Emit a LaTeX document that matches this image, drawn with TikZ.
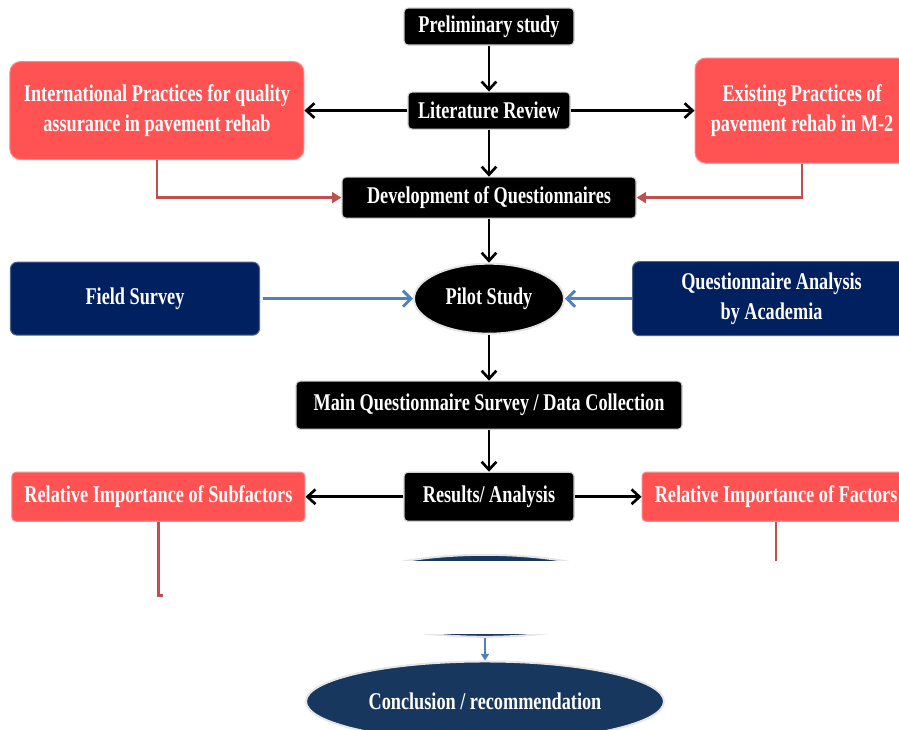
\documentclass[tikz,border=0pt]{standalone}
\usepackage{fontspec}
\setmainfont{Liberation Serif}[FakeStretch=0.76]
\usepackage{tikz}
\usetikzlibrary{shapes.geometric, arrows.meta, positioning}
\definecolor{boxred}{RGB}{255, 82, 82}
\definecolor{boxnavy}{RGB}{0, 32, 96}
\definecolor{ellnavy}{RGB}{23, 55, 94}
\definecolor{linered}{RGB}{192, 80, 77}
\definecolor{lineblue}{RGB}{79, 129, 189}
\tikzset{
  stepbox/.style={
    rectangle, rounded corners=3pt,
    draw=black!18, line width=0.8pt, fill=black,
    text=white, align=center, inner sep=2pt,
    font=\fontsize{18}{22}\selectfont\bfseries
  },
  redbox/.style={
    stepbox, rounded corners=8pt,
    draw=boxred!70!white, fill=boxred
  },
  navybox/.style={
    stepbox, rounded corners=5pt,
    draw=boxnavy!70!white, fill=boxnavy
  },
  blackell/.style={
    stepbox, ellipse, inner sep=0pt,
    draw=black!10, line width=1.5pt
  },
  navyell/.style={
    blackell, fill=ellnavy
  },
  arr/.style={-{Straight Barb[length=6pt, width=11pt]}, line width=2pt, black},
  redarr/.style={-{Triangle[length=7pt, width=8pt]}, line width=2pt, color=linered},
  bluearr/.style={-{Straight Barb[length=6pt, width=12pt]}, line width=2.2pt, color=lineblue},
  bluetip/.style={-{Triangle[length=5pt, width=6pt]}, line width=1.5pt, color=lineblue},
}
\begin{document}
\begin{tikzpicture}[x=0.75pt, y=0.75pt]
  \useasboundingbox (0,0) rectangle (899,-729);

  % Main chain
  \node[stepbox, minimum width=127.5pt, minimum height=27.75pt] (prelim) at (489,-26.5) {Preliminary study};
  \node[stepbox, below=34.5pt of prelim, minimum width=121.5pt, minimum height=27.75pt] (lit) {Literature Review};
  \node[stepbox, below=35.25pt of lit, minimum width=220.5pt, minimum height=30.75pt] (dev) {Development of Questionnaires};
  \node[blackell, below=33pt of dev, minimum width=112.5pt, minimum height=52.5pt] (pilot) {Pilot Study};
  \node[stepbox, below=34.5pt of pilot, minimum width=289.5pt, minimum height=36pt] (main) {Main Questionnaire Survey / Data Collection};
  \node[stepbox, below=31.5pt of main, minimum width=127.5pt, minimum height=36.75pt] (res) {Results/ Analysis};
  \node[navyell, below=24pt of res, xshift=-3pt, minimum width=225pt, minimum height=61.5pt] (mid) {};
  \node[navyell, below=17pt of mid, minimum width=268.5pt, minimum height=60pt] (concl) {Conclusion / recommendation};

  % Side boxes
  \node[redbox, left=77.25pt of lit, minimum width=220.5pt, minimum height=73.5pt] (intl) {International Practices for quality\\ assurance in pavement rehab};
  \node[redbox, right=93pt of lit, minimum width=160.5pt, minimum height=78.75pt] (exist) {Existing Practices of\\ pavement rehab in M-2};
  \node[navybox, left=114.75pt of pilot, minimum width=186.75pt, minimum height=54.75pt] (field) {Field Survey};
  \node[navybox, right=50.25pt of pilot, minimum width=208.5pt, minimum height=55.5pt] (qa) {Questionnaire Analysis\\ by Academia};
  \node[redbox, rounded corners=3pt, left=73.5pt of res, minimum width=219.75pt, minimum height=36.75pt] (sub) {Relative Importance of Subfactors};
  \node[redbox, rounded corners=3pt, right=50.25pt of res, minimum width=201pt, minimum height=36.75pt] (fac) {Relative Importance of Factors};

  % Arrows
  \draw[arr] (prelim) -- (lit);
  \draw[arr] (lit) -- (intl);
  \draw[arr] (lit) -- (exist);
  \draw[arr] (lit) -- (dev);
  \draw[redarr] (intl) |- (dev);
  \draw[redarr] (exist) |- (dev);
  \draw[arr] (dev) -- (pilot);
  \draw[bluearr, shorten <=2pt] (field) -- (pilot);
  \draw[bluearr] (qa) -- (pilot);
  \draw[arr] (pilot) -- (main);
  \draw[arr] (main) -- (res);
  \draw[arr] (res) -- (sub);
  \draw[arr] (res) -- (fac);
  \draw[redarr] (sub) |- (mid);
  \draw[redarr] (fac) |- (mid);

  % blank band over the middle
  \path (mid.north) ++(0,-7) coordinate (bandtop);
  \path (mid.south) ++(0,4) coordinate (bandbot);
  \fill[white] (bandtop -| sub.south) ++(5,0) rectangle (bandbot -| fac.east);
  \draw[bluetip] (mid) -- (concl);

\end{tikzpicture}
\end{document}
